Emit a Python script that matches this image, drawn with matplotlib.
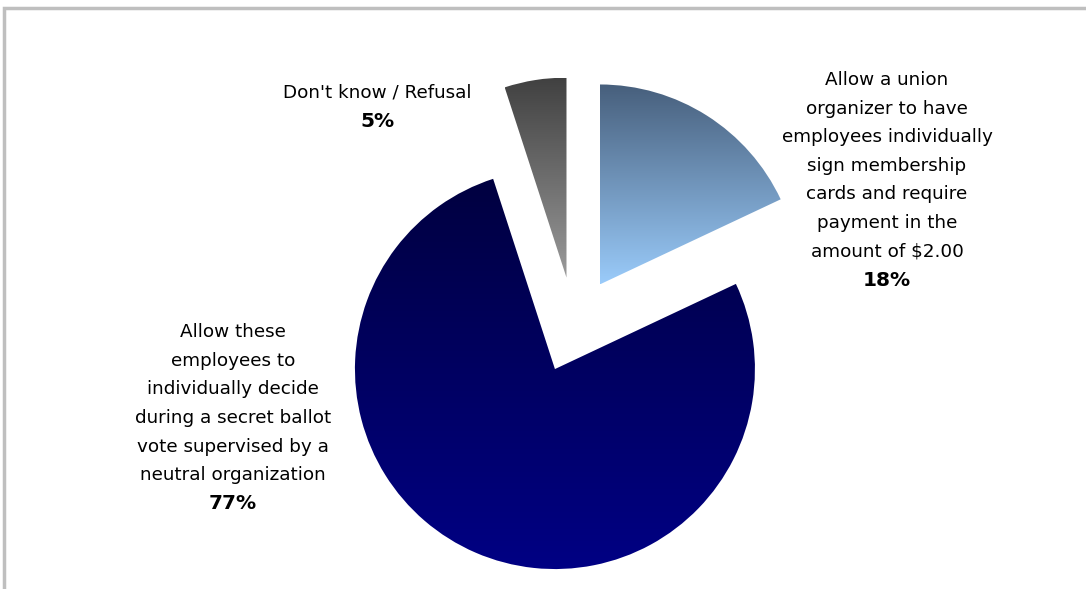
import numpy as np
import matplotlib.pyplot as plt
from matplotlib.patches import Rectangle

# Chart data
labels = [
    "Allow a union\norganizer to have\nemployees individually\nsign membership\ncards and require\npayment in the\namount of $2.00",
    "Allow these\nemployees to\nindividually decide\nduring a secret ballot\nvote supervised by a\nneutral organization",
    "Don't know / Refusal",
]
values = [18, 77, 5]
pct_labels = ["18%", "77%", "5%"]

# gradient colours per slice (top, bottom)
grad_top = ["#475f7c", "#000040", "#414141"]
grad_bot = ["#9acbfa", "#000084", "#9a9a9a"]

# label anchor points (pixels, from top-left)
label_pos = [(887, 180), (233, 418), (377, 107)]

W, H = 1086, 589
fig = plt.figure(figsize=(W / 100, H / 100), dpi=100)
ax = fig.add_axes([0, 0, 1, 1])

# frame around chart area (cropped at right / bottom)
ax.add_patch(Rectangle((4, -10), W + 20, H - 8 + 10, fill=False,
                       edgecolor="#bfbfbf", linewidth=2.5, zorder=0))

cx, cy, r = 574, H - 325, 200
# explode is in data units here (pixels)
wedges, _ = ax.pie(values, startangle=90, counterclock=False,
                   explode=[48] * 3, center=(cx, cy), radius=r,
                   frame=True)
ax.set_xlim(0, W)
ax.set_ylim(0, H)
ax.set_aspect("auto")
ax.axis("off")


def to_rgb(h):
    h = h.lstrip("#")
    return np.array([int(h[i:i + 2], 16) / 255 for i in (0, 2, 4)])


for w, top, bot in zip(wedges, grad_top, grad_bot):
    w.set_facecolor("none")
    w.set_edgecolor("none")
    path = w.get_path()
    verts = w.get_transform().transform(path.vertices)
    verts = ax.transData.inverted().transform(verts)
    x0, y0 = verts.min(axis=0)
    x1, y1 = verts.max(axis=0)
    t = np.linspace(0, 1, 256)[:, None]
    img = (1 - t) * to_rgb(top) + t * to_rgb(bot)
    img = img[:, None, :]
    im = ax.imshow(img, extent=[x0, x1, y0, y1], aspect="auto",
                   origin="upper", zorder=1, interpolation="bilinear")
    im.set_clip_path(w)

for (lx, ly), lab, pct in zip(label_pos, labels, pct_labels):
    n = lab.count("\n") + 1
    step = 28.6
    top_y = ly - step * n / 2
    for i, line in enumerate(lab.split("\n")):
        ax.text(lx, H - (top_y + i * step), line, ha="center", va="center",
                fontsize=13.2, family="DejaVu Sans", color="#000000")
    ax.text(lx, H - (top_y + n * step), pct, ha="center", va="center",
            fontsize=14.5, family="DejaVu Sans", fontweight="bold",
            color="#000000")

fig.savefig("out.png", dpi=100)
